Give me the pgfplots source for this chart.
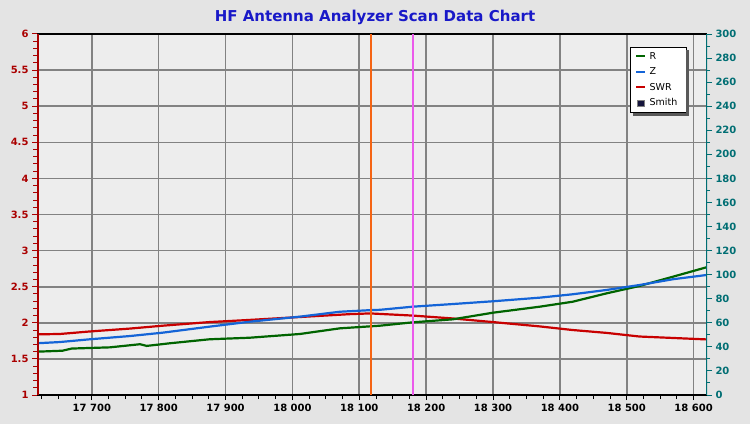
\documentclass[border=0pt]{standalone}
\usepackage{fontspec}
\setmainfont{DejaVu Sans}
\usepackage{pgfplots}
\pgfplotsset{compat=1.18}
\definecolor{bgout}{RGB}{228,228,228}
\definecolor{bgplot}{RGB}{237,237,237}
\definecolor{gridc}{RGB}{130,130,130}
\definecolor{leftc}{RGB}{170,0,0}
\definecolor{rightc}{RGB}{0,110,115}
\definecolor{titlec}{RGB}{25,25,200}
\definecolor{Rc}{RGB}{0,100,0}
\definecolor{Zc}{RGB}{20,100,215}
\definecolor{SWRc}{RGB}{200,0,0}
\definecolor{orangec}{RGB}{245,100,20}
\definecolor{magc}{RGB}{235,90,235}
\definecolor{smithc}{RGB}{20,20,60}

\pgfplotstableread{
f swr
17618 1.84
17652 1.845
17697 1.88
17757 1.92
17806 1.96
17876 2.01
17936 2.04
18011 2.08
18086 2.12
18116 2.13
18180 2.10
18240 2.06
18300 2.01
18370 1.95
18419 1.90
18470 1.86
18519 1.81
18569 1.79
18619 1.77
}\swrdata

\pgfplotstableread{
f z
17618 43.0
17652 44.0
17697 46.3
17757 49.0
17806 51.8
17876 56.8
17936 60.9
18011 65.1
18071 69.2
18116 70.5
18131 70.8
18180 73.4
18240 75.6
18300 77.9
18370 80.9
18419 83.7
18470 87.3
18519 91.4
18569 96.2
18619 99.7
}\zdata

\pgfplotstableread{
f r
17618 36.0
17656 36.8
17670 38.6
17727 39.6
17772 42.2
17782 40.8
17817 43.0
17876 46.3
17936 47.6
18011 50.7
18071 55.4
18131 57.6
18180 60.4
18240 62.9
18300 68.4
18370 73.4
18419 77.5
18470 84.5
18519 90.6
18569 98.3
18619 106.1
}\rdata

\begin{document}
\begin{tikzpicture}
\fill[bgout] (0,0) rectangle (750pt,424pt);
\fill[bgplot] (37pt,29pt) rectangle (707pt,390pt);
\node[font=\bfseries\fontsize{15}{15}\selectfont, text=titlec] at (375pt,407pt) {HF Antenna Analyzer Scan Data Chart};
\begin{axis}[
  at={(37pt,29pt)}, anchor=south west, scale only axis,
  width=670pt, height=361pt,
  xmin=17618, xmax=18620, ymin=1, ymax=6,
  axis line style={draw=none},
  scaled x ticks=false,
  xtick={17700,17800,17900,18000,18100,18200,18300,18400,18500,18600},
  xticklabels={17 700,17 800,17 900,18 000,18 100,18 200,18 300,18 400,18 500,18 600},
  minor xtick={17625,17650,17675,17725,17750,17775,17825,17850,17875,17925,17950,17975,18025,18050,18075,18125,18150,18175,18225,18250,18275,18325,18350,18375,18425,18450,18475,18525,18550,18575},
  ytick={1,1.5,2,2.5,3,3.5,4,4.5,5,5.5,6},
  minor ytick={1.1,1.2,1.3,1.4,1.6,1.7,1.8,1.9,2.1,2.2,2.3,2.4,2.6,2.7,2.8,2.9,3.1,3.2,3.3,3.4,3.6,3.7,3.8,3.9,4.1,4.2,4.3,4.4,4.6,4.7,4.8,4.9,5.1,5.2,5.3,5.4,5.6,5.7,5.8,5.9},
  xmajorgrids, ymajorgrids,
  major grid style={gridc, line width=1.6pt},
  tick align=outside,
  xtick pos=left, ytick pos=left,
  major tick length=5pt, minor tick length=4pt,
  x tick style={black, line width=1pt},
  y tick style={leftc, line width=1pt},
  xticklabel style={font=\bfseries\fontsize{10}{10}\selectfont, text=black, yshift=-1pt},
  yticklabel style={font=\bfseries\fontsize{10}{10}\selectfont, text=leftc},
  /pgf/number format/assume math mode=true,
]
\addplot[SWRc, line width=2.2pt] table[x=f, y=swr] {\swrdata};
\draw[black, line width=2.2pt] (rel axis cs:0,0) -- (rel axis cs:1,0);
\draw[black, line width=1.2pt] (rel axis cs:0,1) -- (rel axis cs:1,1);
\end{axis}
\begin{axis}[
  at={(37pt,29pt)}, anchor=south west, scale only axis,
  width=670pt, height=361pt,
  xmin=17618, xmax=18620, ymin=0, ymax=300,
  axis line style={draw=none},
  xtick=\empty,
  ytick={0,20,...,300},
  minor y tick num=1,
  ytick pos=right, yticklabel pos=right,
  tick align=outside,
  major tick length=5pt, minor tick length=3pt,
  y tick style={rightc, line width=1pt},
  yticklabel style={font=\bfseries\fontsize{10}{10}\selectfont, text=rightc},
  /pgf/number format/assume math mode=true,
  legend style={name=leg, at={(0.885,0.964)}, anchor=north west, draw=black, fill=white,
    font=\fontsize{9.5}{10}\selectfont, inner xsep=5pt, inner ysep=3pt, row sep=3pt,
    nodes={inner xsep=3.5pt}},
  legend cell align=left,
  legend image code/.code={\draw[#1, line width=2pt, line cap=butt] (0pt,0pt) -- (9pt,0pt);},
]
\addplot[Rc, line width=2.2pt] table[x=f, y=r] {\rdata};
\addlegendentry{R}
\addplot[Zc, line width=2.2pt] table[x=f, y=z] {\zdata};
\addlegendentry{Z}
\addlegendimage{draw=SWRc, line width=2pt}
\addlegendentry{SWR}
\addlegendimage{legend image code/.code={\fill[smithc, draw=gray] (1.5pt,-3.5pt) rectangle (8pt,3pt);}}
\addlegendentry{Smith}
\addplot[orangec, line width=1.8pt, forget plot] coordinates {(18117,0) (18117,300)};
\addplot[magc, line width=1.8pt, forget plot] coordinates {(18180,0) (18180,300)};
\draw[leftc, line width=3pt] (rel axis cs:0,0) -- (rel axis cs:0,1);
\draw[rightc, line width=2pt] (rel axis cs:1,0) -- (rel axis cs:1,1);
\end{axis}
\fill[black!65] ([xshift=0.4pt,yshift=-3pt]leg.north east) rectangle ([xshift=3pt,yshift=-3pt]leg.south east);
\fill[black!65] ([xshift=3pt,yshift=-0.4pt]leg.south west) rectangle ([xshift=3pt,yshift=-3pt]leg.south east);
\end{tikzpicture}
\end{document}
